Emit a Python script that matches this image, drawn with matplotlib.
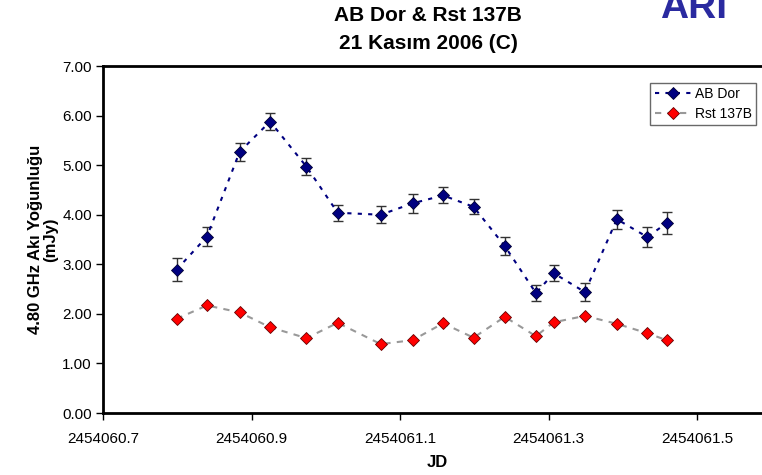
import numpy as np
import matplotlib.pyplot as plt
from matplotlib.ticker import FormatStrFormatter, MultipleLocator

plt.rcParams['font.family'] = ['Liberation Sans', 'DejaVu Sans']

# JD offsets from 2454060
jd_off = [0.799, 0.840, 0.884, 0.925, 0.974, 1.016, 1.074, 1.117, 1.158, 1.199,
          1.241, 1.283, 1.307, 1.349, 1.392, 1.433, 1.459]
jd = [2454060 + d for d in jd_off]

ab_dor = [2.89, 3.56, 5.27, 5.88, 4.97, 4.04, 4.00, 4.23, 4.39, 4.16,
          3.37, 2.42, 2.82, 2.44, 3.91, 3.55, 3.83]
ab_err = [0.23, 0.20, 0.18, 0.17, 0.17, 0.16, 0.17, 0.19, 0.16, 0.155,
          0.175, 0.16, 0.16, 0.175, 0.19, 0.21, 0.22]
rst = [1.90, 2.17, 2.03, 1.73, 1.51, 1.82, 1.39, 1.47, 1.81, 1.52,
       1.94, 1.55, 1.83, 1.96, 1.80, 1.61, 1.47]

fig = plt.figure(figsize=(7.62, 4.75), dpi=100)
ax = fig.add_axes([0.1352, 0.1305, 0.877, 0.7305])

ax.errorbar(jd, ab_dor, yerr=ab_err, fmt='none', ecolor='#333333',
            elinewidth=1.0, capsize=3.5, capthick=1.0, zorder=2)
ax.plot(jd, ab_dor, color='#000080', linestyle=(0, (2, 3)), linewidth=1.5,
        marker='D', markersize=6.5, markerfacecolor='#000080',
        markeredgecolor='#000033', markeredgewidth=0.6, label='AB Dor', zorder=3)
ax.plot(jd, rst, color='#999999', linestyle=(0, (3, 3)), linewidth=1.5,
        marker='D', markersize=6.5, markerfacecolor='#ff0000',
        markeredgecolor='#660000', markeredgewidth=0.6, label='Rst 137B', zorder=3)

ax.set_xlim(2454060.7, 2454061.6)
ax.set_ylim(0, 7)
ax.set_xticks([2454060.7, 2454060.9, 2454061.1, 2454061.3, 2454061.5])
ax.xaxis.set_major_formatter(FormatStrFormatter('%.1f'))
ax.yaxis.set_major_locator(MultipleLocator(1))
ax.yaxis.set_major_formatter(FormatStrFormatter('%.2f'))
ax.tick_params(direction='out', labelsize=11, length=5, width=1, pad=3)
ax.tick_params(axis='x', pad=9)
for s in ax.spines.values():
    s.set_linewidth(2)

ax.set_xlabel('JD', fontsize=12, fontweight='bold', labelpad=6)
ax.set_ylabel('4.80 GHz Akı Yoğunluğu\n(mJy)', fontsize=12, fontweight='bold',
              labelpad=3, linespacing=1.0)

fig.text(0.562, 0.988, 'AB Dor & Rst 137B\n21 Kasım 2006 (C)', ha='center', va='top',
         fontsize=15, fontweight='bold', linespacing=1.6)
fig.text(0.866, 0.963, 'ARI', ha='left', va='baseline', fontsize=28, fontweight='bold',
         color='#2a2aa0')

leg = ax.legend(loc='upper left', bbox_to_anchor=(0.819, 0.951), fontsize=10,
                frameon=True, fancybox=False, edgecolor='#444444', borderpad=0.3,
                handlelength=2.6, handletextpad=0.3, labelspacing=0.4, borderaxespad=0)
leg.get_frame().set_linewidth(1)

fig.savefig('out.png', dpi=100)
